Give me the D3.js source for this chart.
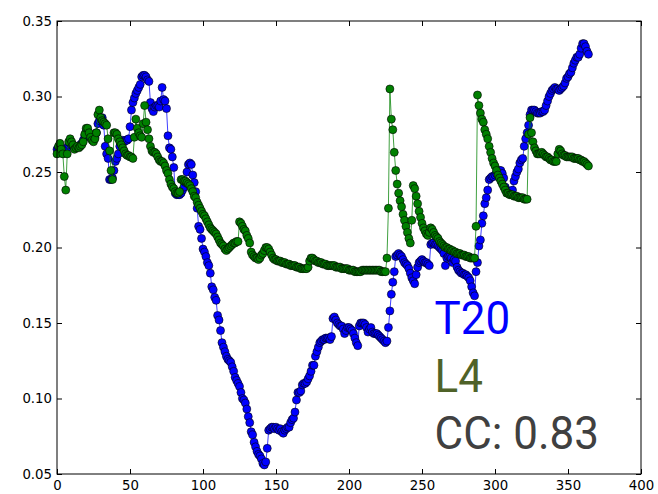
<!DOCTYPE html>
<html>
<head>
<meta charset="utf-8">
<script src="https://cdn.jsdelivr.net/npm/d3@7"></script>
<style>
  html, body { margin: 0; padding: 0; background: #ffffff; }
  svg { display: block; }
</style>
</head>
<body>
<svg id="chart" width="658" height="494"></svg>
<script>
// ---------------- data ----------------
const xTicks = [0, 50, 100, 150, 200, 250, 300, 350, 400];
const yTicks = [0.05, 0.10, 0.15, 0.20, 0.25, 0.30, 0.35];
const yTickLabels = ["0.05", "0.10", "0.15", "0.20", "0.25", "0.30", "0.35"];
const seriesNames = ["T20", "L4"];
const ccLabel = "CC: 0.83";

const t20 = [
0.265,0.266,0.266,0.264,0.263,0.264,0.265,0.266,0.268,0.269,
0.268,0.267,0.266,0.266,0.267,0.267,0.268,0.269,0.271,0.274,
0.277,0.277,0.275,0.273,0.272,0.272,0.273,0.276,0.282,0.284,
0.285,0.286,0.281,0.267,0.262,0.259,0.245,0.245,0.246,0.251,
0.257,0.259,0.262,0.267,0.270,0.271,0.270,0.271,0.271,0.272,
0.280,0.291,0.296,0.299,0.302,0.304,0.306,0.308,0.313,0.314,
0.314,0.313,0.311,0.310,0.296,0.292,0.290,0.293,0.294,0.294,
0.293,0.297,0.306,0.298,0.297,0.292,0.274,0.266,0.265,0.260,
0.253,0.236,0.235,0.235,0.235,0.236,0.238,0.240,0.243,0.250,
0.255,0.256,0.255,0.248,0.243,0.237,0.226,0.214,0.212,0.206,
0.199,0.197,0.194,0.190,0.188,0.183,0.174,0.172,0.167,0.165,
0.155,0.152,0.145,0.137,0.134,0.131,0.128,0.126,0.125,0.124,
0.121,0.118,0.114,0.112,0.110,0.108,0.104,0.100,0.099,0.097,
0.093,0.088,0.084,0.078,0.076,0.071,0.068,0.065,0.063,0.062,
0.060,0.057,0.056,0.058,0.067,0.079,0.080,0.081,0.081,0.080,
0.081,0.080,0.079,0.080,0.078,0.077,0.079,0.080,0.081,0.081,
0.084,0.086,0.087,0.091,0.099,0.104,0.104,0.105,0.109,0.110,
0.110,0.111,0.113,0.115,0.118,0.122,0.122,0.128,0.131,0.134,
0.137,0.138,0.139,0.139,0.140,0.140,0.140,0.139,0.141,0.153,
0.154,0.152,0.150,0.149,0.148,0.148,0.146,0.143,0.145,0.147,
0.147,0.146,0.145,0.143,0.140,0.137,0.135,0.148,0.150,0.150,
0.150,0.149,0.147,0.144,0.146,0.147,0.144,0.143,0.143,0.143,
0.142,0.141,0.140,0.139,0.138,0.137,0.138,0.147,0.158,0.169,
0.177,0.184,0.194,0.195,0.196,0.195,0.194,0.192,0.190,0.189,
0.188,0.186,0.183,0.180,0.178,0.176,0.182,0.187,0.190,0.191,
0.192,0.191,0.190,0.190,0.189,0.188,0.202,0.203,0.203,0.202,
0.202,0.201,0.200,0.199,0.198,0.196,0.188,0.193,0.194,0.194,
0.193,0.190,0.192,0.191,0.187,0.185,0.184,0.183,0.183,0.182,
0.182,0.181,0.180,0.178,0.174,0.170,0.168,0.184,0.190,0.201,
0.205,0.216,0.221,0.229,0.233,0.238,0.245,0.246,0.247,0.247,
0.248,0.249,0.250,0.251,0.251,0.249,0.246,0.240,0.238,0.237,
0.237,0.236,0.238,0.244,0.247,0.250,0.252,0.256,0.258,0.259,
0.267,0.272,0.276,0.281,0.288,0.291,0.291,0.291,0.290,0.289,
0.289,0.289,0.290,0.290,0.291,0.294,0.297,0.300,0.302,0.304,
0.305,0.306,0.305,0.305,0.304,0.305,0.306,0.307,0.309,0.312,
0.313,0.315,0.316,0.319,0.322,0.324,0.326,0.326,0.328,0.332,
0.335,0.335,0.333,0.330,0.328
];

const l4 = [
0.262,0.267,0.269,0.265,0.262,0.247,0.238,0.262,0.270,0.272,
0.270,0.268,0.265,0.266,0.267,0.266,0.267,0.268,0.270,0.275,
0.279,0.279,0.276,0.273,0.271,0.270,0.272,0.276,0.288,0.291,
0.286,0.284,0.283,0.282,0.281,0.272,0.264,0.251,0.245,0.276,
0.276,0.275,0.272,0.270,0.268,0.266,0.264,0.262,0.261,0.261,
0.260,0.260,0.259,0.273,0.285,0.279,0.276,0.274,0.273,0.282,
0.294,0.283,0.278,0.272,0.267,0.264,0.263,0.263,0.262,0.260,
0.258,0.257,0.257,0.256,0.254,0.251,0.249,0.245,0.242,0.240,
0.239,0.237,0.236,0.236,0.237,0.245,0.245,0.244,0.244,0.243,
0.242,0.241,0.239,0.237,0.234,0.233,0.230,0.228,0.226,0.224,
0.222,0.221,0.219,0.217,0.215,0.213,0.212,0.211,0.210,0.209,
0.207,0.205,0.203,0.202,0.201,0.199,0.198,0.199,0.200,0.201,
0.202,0.203,0.203,0.204,0.204,0.217,0.216,0.214,0.212,0.211,
0.208,0.206,0.203,0.197,0.195,0.194,0.193,0.193,0.192,0.193,
0.195,0.196,0.198,0.200,0.200,0.199,0.197,0.195,0.193,0.192,
0.192,0.191,0.191,0.191,0.190,0.190,0.190,0.189,0.189,0.189,
0.188,0.188,0.188,0.188,0.187,0.187,0.187,0.186,0.186,0.186,
0.186,0.186,0.187,0.191,0.193,0.193,0.192,0.191,0.191,0.190,
0.190,0.190,0.189,0.189,0.189,0.188,0.188,0.188,0.188,0.188,
0.188,0.187,0.187,0.187,0.187,0.186,0.186,0.186,0.186,0.186,
0.185,0.185,0.185,0.185,0.184,0.184,0.184,0.184,0.184,0.185,
0.185,0.185,0.185,0.185,0.185,0.185,0.185,0.185,0.185,0.185,
0.185,0.185,0.184,0.184,0.184,0.184,0.193,0.226,0.305,0.285,
0.278,0.263,0.251,0.242,0.236,0.231,0.227,0.222,0.218,0.214,
0.210,0.206,0.203,0.218,0.241,0.239,0.234,0.229,0.224,0.220,
0.216,0.213,0.211,0.209,0.208,0.210,0.213,0.212,0.210,0.208,
0.207,0.206,0.204,0.203,0.202,0.201,0.200,0.200,0.199,0.199,
0.198,0.198,0.197,0.197,0.196,0.196,0.196,0.195,0.195,0.195,
0.194,0.194,0.194,0.193,0.193,0.193,0.193,0.214,0.301,0.294,
0.289,0.285,0.283,0.278,0.275,0.272,0.267,0.263,0.259,0.256,
0.254,0.251,0.248,0.246,0.244,0.242,0.240,0.238,0.236,0.236,
0.235,0.235,0.235,0.234,0.234,0.234,0.233,0.233,0.233,0.233,
0.232,0.232,0.232,0.275,0.286,0.276,0.270,0.266,0.264,0.262,
0.262,0.262,0.263,0.262,0.261,0.260,0.260,0.259,0.258,0.258,
0.257,0.257,0.257,0.262,0.265,0.264,0.262,0.261,0.261,0.260,
0.260,0.260,0.260,0.260,0.259,0.259,0.259,0.259,0.258,0.258,
0.257,0.257,0.256,0.255,0.254
];

// ---------------- layout ----------------
const svg = d3.select("#chart");
const mLeft = 57, mRight = 641, mTop = 21, mBottom = 474;

const x = d3.scaleLinear().domain([0, 400]).range([mLeft, mRight]);
const y = d3.scaleLinear().domain([0.05, 0.35]).range([mBottom, mTop]);

const tickFont = "DejaVu Sans, sans-serif";
const tickFontSize = 13.3;

// axes
const gB = svg.append("g").attr("transform", `translate(0,${mBottom})`)
  .call(d3.axisBottom(x).tickValues(xTicks).tickFormat(d3.format("d")).tickSize(-5).tickSizeOuter(0).tickPadding(7));
const gT = svg.append("g").attr("transform", `translate(0,${mTop})`)
  .call(d3.axisTop(x).tickValues(xTicks).tickFormat("").tickSize(-5).tickSizeOuter(0));
const gL = svg.append("g").attr("transform", `translate(${mLeft},0)`)
  .call(d3.axisLeft(y).tickValues(yTicks).tickFormat((d, i) => yTickLabels[i]).tickSize(-5).tickSizeOuter(0).tickPadding(5));
const gR = svg.append("g").attr("transform", `translate(${mRight},0)`)
  .call(d3.axisRight(y).tickValues(yTicks).tickFormat("").tickSize(-5).tickSizeOuter(0));

[gB, gT, gL, gR].forEach(g => {
  g.select(".domain").remove();
  g.selectAll(".tick line").attr("stroke", "#000").attr("stroke-width", 1);
  g.selectAll(".tick text").attr("font-family", tickFont).attr("font-size", tickFontSize).attr("fill", "#000");
});

// series
const plot = svg.append("g");
const series = [
  { name: seriesNames[0], values: t20, color: "#0000ff" },
  { name: seriesNames[1], values: l4, color: "#008000" }
];
const line = d3.line().x((d, i) => x(i)).y(d => y(d));

series.forEach(s => {
  plot.append("path")
    .datum(s.values)
    .attr("d", line)
    .attr("fill", "none")
    .attr("stroke", s.color)
    .attr("stroke-opacity", 0.75)
    .attr("stroke-width", 1);
  plot.append("g").selectAll("circle")
    .data(s.values)
    .join("circle")
    .attr("cx", (d, i) => x(i))
    .attr("cy", d => y(d))
    .attr("r", 4)
    .attr("fill", s.color)
    .attr("stroke", "#000")
    .attr("stroke-width", 0.6);
});

// frame
svg.append("rect")
  .attr("x", mLeft).attr("y", mTop)
  .attr("width", mRight - mLeft).attr("height", mBottom - mTop)
  .attr("fill", "none").attr("stroke", "#000").attr("stroke-width", 1);

// annotations
const annFont = "Roboto, Open Sans, sans-serif";
const ann = [
  { text: seriesNames[0], color: "#0000ff", base: 334 },
  { text: seriesNames[1], color: "#4f6228", base: 391.5 },
  { text: ccLabel, color: "#404040", base: 448.5 }
];
ann.forEach(a => {
  svg.append("text")
    .attr("transform", `translate(${x(260) - 2},${a.base}) scale(0.935,1)`)
    .attr("font-family", annFont)
    .attr("font-size", 47)
    .attr("fill", a.color)
    .text(a.text);
});
</script>
</body>
</html>
